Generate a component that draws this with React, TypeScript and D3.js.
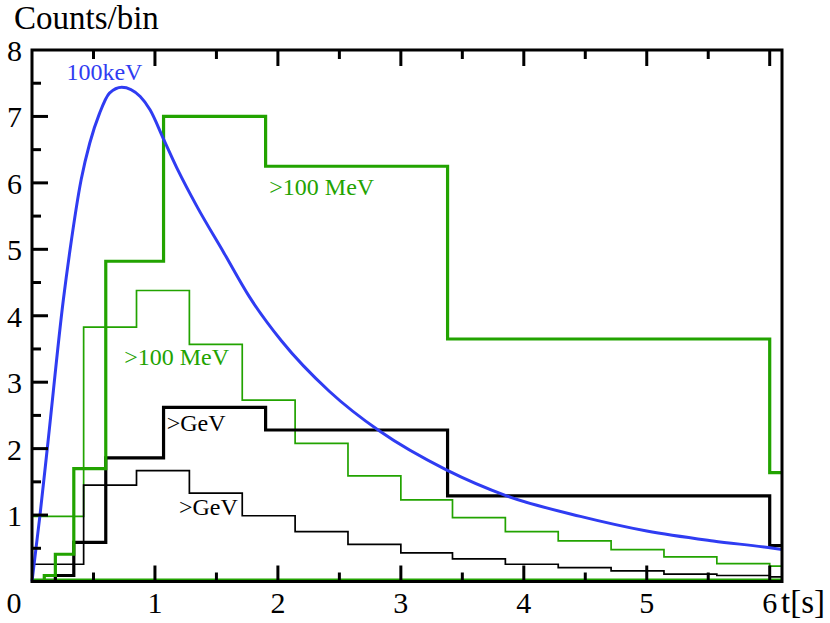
import React, { useEffect, useRef } from 'react'
import * as d3 from 'd3'

// histogram bin edges (t in seconds)
const thinEdges = [0, 0.42, 0.85, 1.28, 1.71, 2.14, 2.57, 3.0, 3.42, 3.85, 4.28, 4.71, 5.14, 5.57, 6.0, 6.1]
const thinGreen = [0.98, 3.83, 4.38, 3.57, 2.73, 2.08, 1.59, 1.23, 0.96, 0.75, 0.61, 0.48, 0.37, 0.27, 0.23]
const thinBlack = [0.26, 1.45, 1.67, 1.33, 0.99, 0.75, 0.56, 0.43, 0.34, 0.26, 0.21, 0.16, 0.11, 0.09, 0.07]

const thickEdges = [0, 0.1, 0.19, 0.34, 0.6, 1.07, 1.9, 3.38, 6.0, 6.1]
const thickGreen = [0, 0.09, 0.41, 1.7, 4.82, 7.0, 6.25, 3.65, 1.64]
const thickBlack = [0, 0, 0.09, 0.59, 1.86, 2.62, 2.28, 1.29, 0.54]

// 100keV light curve
const blueT = [0, 0.065, 0.13, 0.255, 0.31, 0.4, 0.47, 0.55, 0.63, 0.73, 0.88, 0.96, 1.07, 1.19, 1.34, 1.56, 1.77, 2.03, 2.42, 2.83, 3.37, 3.86, 4.46, 5.0, 5.54, 6.03, 6.1]
const blueV = [0, 1.0, 2.1, 4.24, 5.0, 6.05, 6.6, 7.05, 7.35, 7.44, 7.3, 7.1, 6.66, 6.18, 5.65, 4.95, 4.28, 3.62, 2.86, 2.26, 1.68, 1.29, 0.98, 0.76, 0.61, 0.5, 0.48]

const xMajor = [1, 2, 3, 4, 5, 6]
const xMinor = [0.5, 1.5, 2.5, 3.5, 4.5, 5.5]
const yMajor = [1, 2, 3, 4, 5, 6, 7]
const yMinor = [0.5, 1.5, 2.5, 3.5, 4.5, 5.5, 6.5, 7.5]
const yLabels = [1, 2, 3, 4, 5, 6, 7, 8]

const labels = [
    { text: '100keV', t: 0.28, v: 7.55, color: '#2f3cf2' },
    { text: '>100 MeV', t: 1.93, v: 5.82, color: '#22a300' },
    { text: '>100 MeV', t: 0.75, v: 3.26, color: '#22a300' },
    { text: '>GeV', t: 1.095, v: 2.26, color: '#000' },
    { text: '>GeV', t: 1.195, v: 1.0, color: '#000' },
]

const GREEN = '#22a300'
const BLUE = '#2f3cf2'
const FONT = 'Liberation Serif, Tinos, Times New Roman, DejaVu Serif, serif'

export default function App() {
    const container = useRef<HTMLDivElement>(null)

    useEffect(() => {
        const width = 830
        const height = 623
        d3.select(container.current).selectAll('*').remove()
        const svg = d3.select(container.current)
            .append('svg')
            .attr('width', width)
            .attr('height', height)
            .style('position', 'absolute')
            .style('left', 0)
            .style('top', 0)
            .style('background', '#fff')

        const x = d3.scaleLinear().domain([0, 6.1]).range([32, 782])
        const y = d3.scaleLinear().domain([0, 8]).range([581.5, 50])

        const step = d3.line<[number, number]>()
            .x(d => x(d[0]))
            .y(d => y(d[1]))
            .curve(d3.curveStepAfter)

        const hist = (edges: number[], vals: number[]): [number, number][] => {
            const pts: [number, number][] = vals.map((v, i) => [edges[i], v])
            pts.push([edges[edges.length - 1], vals[vals.length - 1]])
            return pts
        }

        // green zero line along the bottom
        svg.append('path')
            .attr('d', step([[0, 0], [6.1, 0]]))
            .attr('transform', 'translate(0,-2)')
            .attr('fill', 'none')
            .attr('stroke', GREEN)
            .attr('stroke-width', 2)

        const series = [
            { e: thinEdges, v: thinGreen, c: GREEN, w: 1.7 },
            { e: thinEdges, v: thinBlack, c: '#000', w: 1.7 },
            { e: thickEdges, v: thickBlack, c: '#000', w: 3.2 },
            { e: thickEdges, v: thickGreen, c: GREEN, w: 3.2 },
        ]
        series.forEach(s => {
            svg.append('path')
                .attr('d', step(hist(s.e, s.v)))
                .attr('fill', 'none')
                .attr('stroke', s.c)
                .attr('stroke-width', s.w)
        })

        const curve = d3.line<number>()
            .x((_, i) => x(blueT[i]))
            .y(d => y(d))
            .curve(d3.curveMonotoneX)
        svg.append('path')
            .attr('d', curve(blueV))
            .attr('fill', 'none')
            .attr('stroke', BLUE)
            .attr('stroke-width', 3)

        // frame
        svg.append('rect')
            .attr('x', x(0)).attr('y', y(8))
            .attr('width', x(6.1) - x(0)).attr('height', y(0) - y(8))
            .attr('fill', 'none').attr('stroke', '#000').attr('stroke-width', 3)

        const ticks = svg.append('g').attr('stroke', '#000').attr('stroke-width', 3)
        const tickX = (vals: number[], len: number) => {
            vals.forEach(t => {
                ticks.append('line').attr('x1', x(t)).attr('x2', x(t)).attr('y1', y(0)).attr('y2', y(0) - len)
                ticks.append('line').attr('x1', x(t)).attr('x2', x(t)).attr('y1', y(8)).attr('y2', y(8) + len)
            })
        }
        tickX(xMajor, 16)
        tickX(xMinor, 9)
        yMajor.forEach(v => ticks.append('line').attr('x1', x(0)).attr('x2', x(0) + 16).attr('y1', y(v)).attr('y2', y(v)))
        yMinor.forEach(v => ticks.append('line').attr('x1', x(0)).attr('x2', x(0) + 9).attr('y1', y(v)).attr('y2', y(v)))

        const txt = svg.append('g').attr('fill', '#000')
        const addText = (tx: number, ty: number, s: string, size: number, anchor = 'start', color = '#000') =>
            txt.append('text')
                .attr('x', tx).attr('y', ty)
                .attr('text-anchor', anchor)
                .attr('font-family', FONT)
                .attr('font-size', size)
                .attr('fill', color)
                .text(s)

        xMajor.forEach(t => addText(x(t), 613, String(t), 30, 'middle'))
        addText(14, 613, '0', 30, 'middle')
        yLabels.forEach(v => addText(22, y(v) + 11, String(v), 30, 'end'))
        addText(781, 613, 't[s]', 33)
        addText(14, 29, 'Counts/bin', 33)

        labels.forEach(l => addText(x(l.t), y(l.v), l.text, 24, 'start', l.color))
    }, [])

    return <div ref={container} />
}
